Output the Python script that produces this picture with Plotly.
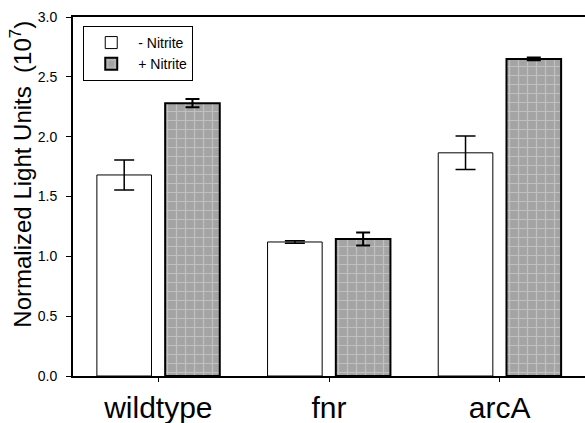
import plotly.graph_objects as go

categories = ["wildtype", "fnr", "arcA"]
minus_nitrite = [1.68, 1.12, 1.865]
minus_err = [0.125, 0.01, 0.14]
plus_nitrite = [2.28, 1.145, 2.65]
plus_err = [0.035, 0.055, 0.012]
y_ticks = [0.0, 0.5, 1.0, 1.5, 2.0, 2.5, 3.0]
y_tick_text = ["0.0", "0.5", "1.0", "1.5", "2.0", "2.5", "3.0"]
y_title = "Normalized Light Units  (10<sup>7</sup>)"

FONT = "Liberation Sans, Arial, sans-serif"

fig = go.Figure()
fig.add_trace(go.Bar(
    x=categories, y=minus_nitrite, name="- Nitrite",
    marker=dict(color="white", line=dict(color="black", width=1)),
    error_y=dict(type="data", array=minus_err, color="black", thickness=1.5, width=10),
))
fig.add_trace(go.Bar(
    x=categories, y=plus_nitrite, name="+ Nitrite",
    marker=dict(
        color="#a4a4a4",
        line=dict(color="black", width=2),
        pattern=dict(shape="+", fgcolor="#dcdcdc", bgcolor="#a4a4a4", size=9, solidity=0.25),
    ),
    error_y=dict(type="data", array=plus_err, color="black", thickness=2, width=7),
))

fig.update_layout(
    width=585, height=423,
    margin=dict(l=73, r=0, t=17, b=47),
    paper_bgcolor="white", plot_bgcolor="white",
    barmode="group", bargap=0.2, bargroupgap=0.2,
    font=dict(family=FONT, color="black"),
    showlegend=True,
    legend=dict(
        x=0.02, y=0.975, xanchor="left", yanchor="top",
        bordercolor="black", borderwidth=1, bgcolor="white",
        font=dict(size=14, family=FONT),
        itemwidth=44, tracegroupgap=0,
    ),
    annotations=[dict(
        text=y_title, textangle=-90, xref="paper", yref="paper",
        x=-0.102, y=0.563, xanchor="center", yanchor="middle",
        showarrow=False, font=dict(size=24, family=FONT, color="black"),
    )],
)
fig.update_xaxes(
    range=[-0.5, 2.5], showline=True, linecolor="black", linewidth=2, mirror=True,
    ticks="outside", ticklen=4, tickwidth=1, tickcolor="black",
    tickfont=dict(size=30, family=FONT), showgrid=False,
)
fig.update_yaxes(
    range=[0, 3.0], tickvals=y_ticks, ticktext=y_tick_text,
    showline=True, linecolor="black", linewidth=2,
    ticks="outside", ticklen=5, tickwidth=1, tickcolor="black",
    ticklabelstandoff=6,
    tickfont=dict(size=14, family=FONT), showgrid=False, zeroline=False,
)

fig.write_html("out.html")
